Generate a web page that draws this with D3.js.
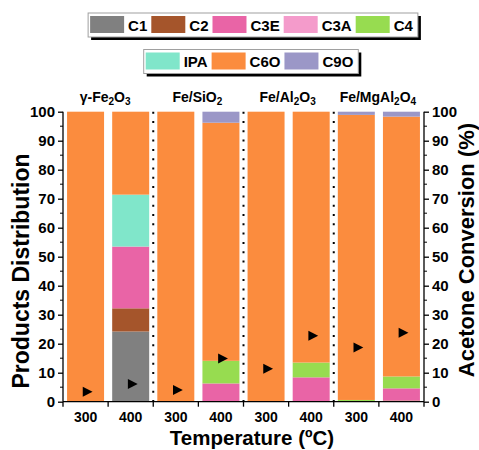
<!DOCTYPE html>
<html>
<head>
<meta charset="utf-8">
<script src="https://cdn.jsdelivr.net/npm/d3@7"></script>
<style>
  body { margin: 0; background: #fff; }
  svg { display: block; font-family: "Liberation Sans", Arial, sans-serif; font-weight: bold; }
</style>
</head>
<body>
<script>
// categories (catalyst + temperature)
const categories = ["g300", "g400", "s300", "s400", "a300", "a400", "m300", "m400"];
const tickLabels = ["300", "400", "300", "400", "300", "400", "300", "400"];
const groupLabels = ["γ-Fe2O3", "Fe/SiO2", "Fe/Al2O3", "Fe/MgAl2O4"];

// products distribution (%), stacked bottom to top
const seriesNames = ["C1", "C2", "C3E", "C3A", "C4", "IPA", "C6O", "C9O"];
const C1  = [0, 24.2, 0, 0, 0, 0, 0, 0];
const C2  = [0, 8.0, 0, 0, 0, 0, 0.2, 0.4];
const C3E = [0, 21.3, 0, 6.3, 0, 8.4, 0, 4.2];
const C3A = [0, 0, 0, 0, 0, 0, 0, 0];
const C4  = [0, 0, 0, 7.8, 0, 5.1, 0.4, 4.1];
const IPA = [0, 17.9, 0, 0, 0, 0, 0, 0];
const C6O = [100, 28.6, 100, 82.1, 100, 86.5, 98.3, 89.6];
const C9O = [0, 0, 0, 3.8, 0, 0, 1.1, 1.7];

// acetone conversion (%)
const conversion = [3.4, 6.1, 4.0, 14.9, 11.4, 22.7, 18.7, 23.8];

const yTicks = [0, 10, 20, 30, 40, 50, 60, 70, 80, 90, 100];

const colors = {
  C1: "#808080", C2: "#A5552B", C3E: "#E964A6", C3A: "#F49BCB",
  C4: "#97DC50", IPA: "#80E6CA", C6O: "#FB8C3E", C9O: "#9B97C7"
};
const legendRow1 = ["C1", "C2", "C3E", "C3A", "C4"];
const legendRow2 = ["IPA", "C6O", "C9O"];

const W = 479, H = 450;
const plotL = 63, plotR = 424, plotT = 111.7, plotB = 401.7;

const svg = d3.select("body").append("svg").attr("width", W).attr("height", H);

const x = d3.scaleBand().domain(categories).range([plotL, plotR])
  .paddingInner(0.18).paddingOuter(0.09);
const y = d3.scaleLinear().domain([0, 100]).range([plotB, plotT]);

const seriesData = { C1, C2, C3E, C3A, C4, IPA, C6O, C9O };
const rows = categories.map((c, i) => {
  const r = { cat: c };
  seriesNames.forEach(s => r[s] = seriesData[s][i]);
  return r;
});
const stacked = d3.stack().keys(seriesNames)(rows);

// bars
svg.append("g")
  .selectAll("g")
  .data(stacked)
  .join("g")
  .attr("fill", d => colors[d.key])
  .selectAll("rect")
  .data(d => d)
  .join("rect")
  .attr("x", d => x(d.data.cat))
  .attr("width", x.bandwidth())
  .attr("y", d => y(d[1]))
  .attr("height", d => y(d[0]) - y(d[1]));

// dotted separators between catalysts
const gap = x.step() * x.paddingInner() / 2;
[2, 4, 6].forEach(i => {
  const sx = x(categories[i]) - gap;
  svg.append("line")
    .attr("x1", sx).attr("x2", sx)
    .attr("y1", y(100)).attr("y2", y(0))
    .attr("stroke", "#000")
    .attr("stroke-width", 2)
    .attr("stroke-dasharray", "2 7.3");
});

// conversion markers (right-pointing triangles)
svg.append("g")
  .selectAll("path")
  .data(conversion)
  .join("path")
  .attr("transform", (d, i) => `translate(${x(categories[i]) + x.bandwidth() / 2 + 2},${y(d)})`)
  .attr("d", "M-4.8,-5L5,0L-4.8,5Z")
  .attr("fill", "#000");

// left axis
const leftAxis = d3.axisLeft(y).tickValues(yTicks).tickSize(5).tickPadding(3);
const gl = svg.append("g").attr("transform", `translate(${plotL},0)`).call(leftAxis);
gl.select(".domain").attr("d", `M0,${y(0)}V${y(100)}`);

// right axis
const rightAxis = d3.axisRight(y).tickValues(yTicks).tickSize(5).tickPadding(3);
const gr = svg.append("g").attr("transform", `translate(${plotR},0)`).call(rightAxis);
gr.select(".domain").attr("d", `M0,${y(0)}V${y(100)}`);

// minor ticks
const minor = d3.range(5, 100, 10);
[[plotL, -3], [plotR, 3]].forEach(([ax, len]) => {
  svg.append("g").selectAll("line").data(minor).join("line")
    .attr("x1", ax).attr("x2", ax + len)
    .attr("y1", d => y(d)).attr("y2", d => y(d))
    .attr("stroke", "#000").attr("stroke-width", 1);
});

[gl, gr].forEach(g => {
  g.selectAll(".domain").attr("stroke-width", 1.3);
  g.selectAll(".tick line").attr("stroke-width", 1.3);
  g.selectAll(".tick text")
    .attr("font-family", '"Liberation Sans", Arial, sans-serif')
    .attr("font-weight", "bold")
    .attr("font-size", 15)
    .attr("fill", "#000");
});

// bottom axis line, boundary ticks, labels
svg.append("line")
  .attr("x1", plotL).attr("x2", plotR)
  .attr("y1", plotB).attr("y2", plotB)
  .attr("stroke", "#000").attr("stroke-width", 1.3);
const bounds = categories.map(c => x(c) - gap).concat([plotR]);
bounds[0] = plotL;
svg.append("g").selectAll("line").data(bounds).join("line")
  .attr("x1", d => d).attr("x2", d => d)
  .attr("y1", plotB).attr("y2", plotB + 5)
  .attr("stroke", "#000").attr("stroke-width", 1.3);
svg.append("g").selectAll("text").data(categories).join("text")
  .attr("x", d => x(d) + x.bandwidth() / 2)
  .attr("y", 421.5)
  .attr("text-anchor", "middle")
  .attr("font-size", 14)
  .text((d, i) => tickLabels[i]);

// axis titles
svg.append("text")
  .attr("x", 252).attr("y", 445)
  .attr("text-anchor", "middle")
  .attr("font-size", 20.5)
  .text("Temperature (ºC)");
svg.append("text")
  .attr("transform", "translate(29,271) rotate(-90)")
  .attr("text-anchor", "middle")
  .attr("font-size", 23)
  .text("Products Distribution");
svg.append("text")
  .attr("transform", "translate(474,250) rotate(-90)")
  .attr("text-anchor", "middle")
  .attr("font-size", 22)
  .text("Acetone Conversion (%)");

// group titles with subscripts
function writeFormula(t, s) {
  let shift = 0;
  s.match(/\d+|\D+/g).forEach(part => {
    const sub = /^\d+$/.test(part);
    const dy = sub ? 3.5 - shift : -shift;
    shift = sub ? 3.5 : 0;
    const ts = t.append("tspan").text(part);
    if (dy) ts.attr("dy", dy);
    if (sub) ts.attr("font-size", 10);
  });
}
groupLabels.forEach((g, i) => {
  const a = x(categories[2 * i]), b = x(categories[2 * i + 1]) + x.bandwidth();
  const t = svg.append("text")
    .attr("x", (a + b) / 2 - (i === 0 ? 3 : 1))
    .attr("y", 101.5)
    .attr("text-anchor", "middle")
    .attr("font-size", 14);
  writeFormula(t, g);
});

// legends
function legend(items, yTop, cx) {
  const g = svg.append("g");
  let cur = 0;
  items.forEach(k => {
    g.append("rect").attr("x", cur).attr("y", 3).attr("width", 34).attr("height", 17)
      .attr("fill", colors[k]);
    const t = g.append("text").attr("x", cur + 38).attr("y", 17.5)
      .attr("font-size", 15).text(k);
    cur += 38 + t.node().getComputedTextLength() + 4;
  });
  const w = cur + 3;
  g.insert("rect", ":first-child").attr("x", -2).attr("y", 0).attr("width", w).attr("height", 24)
    .attr("fill", "#fff").attr("stroke", "#a0a0a0").attr("stroke-width", 1);
  g.insert("rect", ":first-child").attr("x", 1).attr("y", 3).attr("width", w).attr("height", 24)
    .attr("fill", "#000");
  g.attr("transform", `translate(${cx - w / 2 + 2},${yTop})`);
}
legend(legendRow1, 13, 253);
legend(legendRow2, 49.5, 251);
</script>
</body>
</html>
